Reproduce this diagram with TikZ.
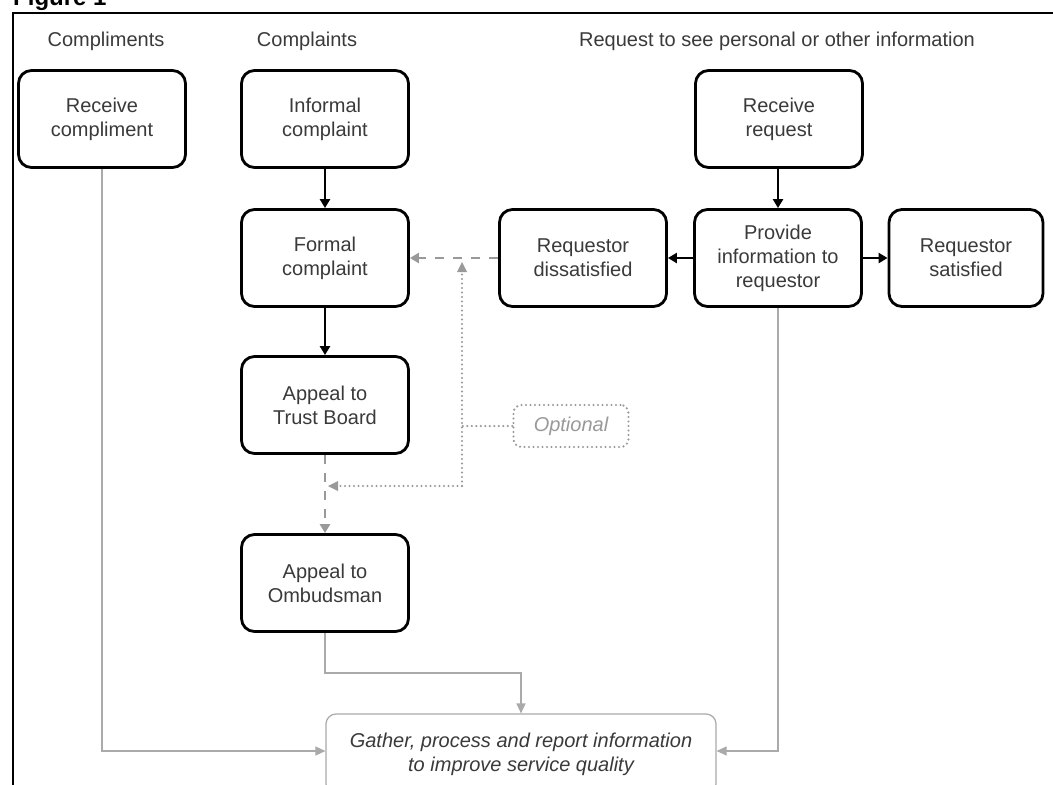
\documentclass[tikz,border=0pt]{standalone}
\usepackage{fontspec}
\setmainfont{Liberation Sans}
\usetikzlibrary{arrows.meta}
\definecolor{txt}{HTML}{3A3A3A}
\definecolor{lgray}{HTML}{AAAAAA}
\definecolor{mgray}{HTML}{999999}
\begin{document}
\begin{tikzpicture}[x=1pt,y=-1pt,
  box/.style={draw=black, line width=2.8pt, rounded corners=13pt, minimum width=167pt, minimum height=97pt, align=center, text=txt, font=\fontsize{20}{24}\selectfont, inner sep=0pt},
  head/.style={text=txt, font=\fontsize{20}{24}\selectfont, inner sep=0pt},
  solidarr/.style={draw=black, line width=2.6pt, -{Triangle[length=9pt,width=10pt]}},
  dasharr/.style={draw=mgray, line width=2.5pt, dash pattern=on 9pt off 9pt, -{Triangle[length=9pt,width=10pt]}},
  dotline/.style={draw=mgray, line width=2.4pt, line cap=round, dash pattern=on 0pt off 4.5pt},
  thinarr/.style={draw=lgray, line width=1.2pt, -{Triangle[length=10pt,width=9pt]}},
  optbox/.style={draw=mgray, line width=2.4pt, line cap=round, dash pattern=on 0pt off 4.5pt, rounded corners=8pt, minimum width=115pt, minimum height=42pt, text=mgray, font=\fontsize{20}{24}\selectfont\itshape},
  gbox/.style={draw=lgray, line width=1.2pt, rounded corners=10pt, minimum width=390pt, minimum height=80pt, align=center, text=txt, font=\fontsize{20}{24}\selectfont\itshape, inner sep=0pt}
]
\useasboundingbox (0,0) rectangle (1053,785);
\clip (0,0) rectangle (1053,785);
\fill[white] (0,0) rectangle (1053,785);
% title and frame
\node[anchor=base west, inner sep=0pt, font=\fontsize{24}{28}\selectfont\bfseries] (fig) at (13,5) {Figure 1};
\draw[line width=2.2pt] (1060,13) -- (13,13) -- (13,790);
% headers
\node[head] (h1) at (106,41) {Compliments};
\node[head] (h2) at (307,41) {Complaints};
\node[head] (h3) at (777,41) {Request to see personal or other information};
% boxes
\node[box] (rc) at (102,119) {Receive\\compliment};
\node[box] (ic) at (325,119) {Informal\\complaint};
\node[box] (fc) at (325,258) {Formal\\complaint};
\node[box] (tb) at (325,405) {Appeal to\\Trust Board};
\node[box] (om) at (325,583) {Appeal to\\Ombudsman};
\node[box] (rr) at (779,119) {Receive\\request};
\node[box] (pi) at (778,258) {Provide\\information to\\requestor};
\node[box] (rd) at (583,258) {Requestor\\dissatisfied};
\node[box, minimum width=154pt] (rs) at (966,258) {Requestor\\satisfied};
\node[optbox] (opt) at (571,426) {Optional};
\node[gbox] (g) at (521,754) {Gather, process and report information\\to improve service quality};
% solid arrows
\draw[solidarr] (ic) -- (fc);
\draw[solidarr] (fc) -- (tb);
\draw[solidarr] (rr.south -| pi.north) -- (pi);
\draw[solidarr] (pi) -- (rd);
\draw[solidarr] (pi) -- (rs);
% dashed arrows
\draw[dasharr] (rd.west) -- (fc.east);
\draw[dasharr] (tb) -- (om);
% dotted optional paths
\coordinate (j1) at (462,262);
\coordinate (j2) at (462,486);
\coordinate (j3) at (328,486);
\draw[dotline] (opt.west) -- (462,426);
\draw[dotline] (j2) -- (462,272);
\fill[mgray] (j1) -- ++(-5,10) -- ++(10,0) -- cycle;
\draw[dotline] (j2) -- (338,486);
\fill[mgray] (j3) -- ++(10,-5) -- ++(0,10) -- cycle;
% thin gray lines to gather box
\draw[thinarr] (rc.south) -- (102,751) -- (g.west |- 0,751);
\draw[thinarr] (om.south) -- (325,673) -- (521,673) -- (g.north);
\draw[thinarr] (pi.south) -- (778,751) -- (g.east |- 0,751);
\end{tikzpicture}
\end{document}
